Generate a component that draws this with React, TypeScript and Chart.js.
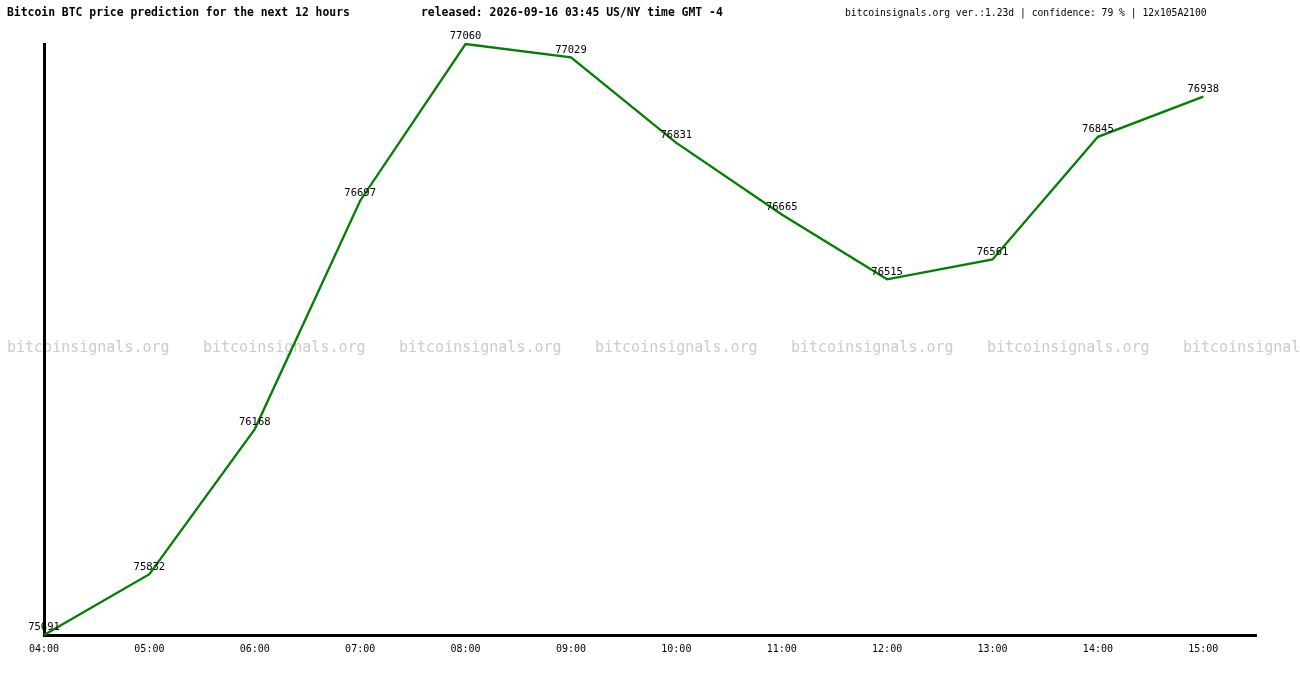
import { useEffect, useRef } from 'react';
import { Chart, registerables } from 'chart.js';

Chart.register(...registerables);

const HOURS = ['04:00', '05:00', '06:00', '07:00', '08:00', '09:00', '10:00', '11:00', '12:00', '13:00', '14:00', '15:00'];
const PRICES = [75691, 75832, 76168, 76697, 77060, 77029, 76831, 76665, 76515, 76561, 76845, 76938];

const TITLE_LEFT = 'Bitcoin BTC price prediction for the next 12 hours';
const TITLE_MID = 'released: 2026-09-16 03:45 US/NY time GMT -4';
const TITLE_RIGHT = 'bitcoinsignals.org ver.:1.23d | confidence: 79 % | 12x105A2100';
const WATERMARK = 'bitcoinsignals.org';

const MONO = '"DejaVu Sans Mono", monospace';

const backdrop = {
  id: 'backdrop',
  beforeDraw(chart) {
    const { ctx, width } = chart;
    ctx.save();
    ctx.font = `15px ${MONO}`;
    ctx.fillStyle = '#cccccc';
    ctx.textBaseline = 'middle';
    for (let x = 7; x < width; x += 196) ctx.fillText(WATERMARK, x, 348);

    ctx.fillStyle = '#000';
    ctx.font = `bold 11.4px ${MONO}`;
    ctx.fillText(TITLE_LEFT, 7, 13);
    ctx.fillText(TITLE_MID, 421, 13);
    ctx.font = `9.7px ${MONO}`;
    ctx.fillText(TITLE_RIGHT, 845, 13);
    ctx.restore();
  },
};

const pointLabels = {
  id: 'pointLabels',
  afterDatasetsDraw(chart) {
    const { ctx } = chart;
    const meta = chart.getDatasetMeta(0);
    ctx.save();
    ctx.font = `10.5px ${MONO}`;
    ctx.fillStyle = '#000';
    ctx.textAlign = 'center';
    ctx.textBaseline = 'bottom';
    meta.data.forEach((pt, i) => {
      ctx.fillText(String(PRICES[i]), pt.x, pt.y - 2);
    });
    ctx.restore();
  },
};

export default function App() {
  const canvasRef = useRef(null);
  const chartRef = useRef(null);

  useEffect(() => {
    if (chartRef.current) chartRef.current.destroy();

    chartRef.current = new Chart(canvasRef.current, {
      type: 'line',
      data: {
        datasets: [{
          data: PRICES.map((p, i) => ({ x: i, y: p })),
          borderColor: '#007f00',
          borderWidth: 2.3,
          pointRadius: 0,
          tension: 0,
          clip: false,
        }],
      },
      options: {
        animation: false,
        responsive: false,
        maintainAspectRatio: false,
        layout: { padding: { left: 44, right: 44, top: 44, bottom: 15 } },
        scales: {
          x: {
            type: 'linear',
            min: 0,
            max: 11.5,
            grid: { display: false },
            border: { display: true, color: '#000', width: 3 },
            afterFit: (s) => { s.height = 30; },
            ticks: {
              stepSize: 1,
              autoSkip: false,
              maxRotation: 0,
              padding: 0,
              color: '#000',
              font: { family: 'DejaVu Sans Mono', size: 10 },
              callback: (v) => HOURS[v] ?? '',
            },
          },
          y: {
            min: 75691,
            max: 77060,
            grid: { display: false },
            border: { display: true, color: '#000', width: 3 },
            ticks: { display: false },
            afterFit: (s) => { s.width = 0; },
          },
        },
        plugins: {
          legend: { display: false },
          tooltip: { enabled: false },
        },
      },
      plugins: [backdrop, pointLabels],
    });

    return () => { if (chartRef.current) chartRef.current.destroy(); };
  }, []);

  return (
    <div style={{ position: 'fixed', left: 0, top: 0, width: 1300, height: 680, background: '#fff' }}>
      <canvas ref={canvasRef} width={1300} height={680} />
    </div>
  );
}
